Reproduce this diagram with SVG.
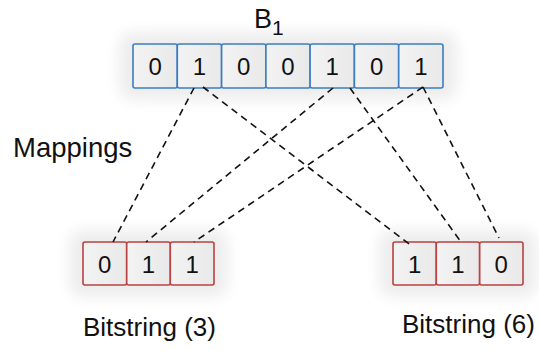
<svg xmlns="http://www.w3.org/2000/svg" width="539" height="351" viewBox="0 0 539 351">
  <defs>
    <filter id="glow" x="-30%" y="-60%" width="160%" height="220%">
      <feGaussianBlur stdDeviation="7"/>
    </filter>
    <linearGradient id="cellfill" x1="0" y1="0" x2="1" y2="0">
      <stop offset="0" stop-color="#f3f3f3"/>
      <stop offset="1" stop-color="#e9e9e9"/>
    </linearGradient>
  </defs>
  <style>
    .halo { fill: #ededed; filter: url(#glow); }
    .cb { fill: url(#cellfill); stroke: #3a7dc2; stroke-width: 1.6; }
    .cr { fill: url(#cellfill); stroke: #b84141; stroke-width: 1.6; }
    .d { font-family: "Liberation Sans", Arial, sans-serif; font-size: 24px; fill: #111; text-anchor: middle; }
    .lbl { font-family: "Liberation Sans", Arial, sans-serif; font-size: 26px; fill: #111; }
    .conn line { stroke: #111; stroke-width: 1.6; stroke-dasharray: 7 5; fill: none; }
  </style>
  <rect width="539" height="351" fill="#ffffff"/>

  <g id="B1">
    <rect class="halo" x="119" y="32" width="338" height="68" rx="14"/>
    <rect class="cb" x="133" y="44" width="44.3" height="44" rx="2"/>
    <rect class="cb" x="177.3" y="44" width="44.3" height="44" rx="2"/>
    <rect class="cb" x="221.6" y="44" width="44.3" height="44" rx="2"/>
    <rect class="cb" x="265.9" y="44" width="44.3" height="44" rx="2"/>
    <rect class="cb" x="310.1" y="44" width="44.3" height="44" rx="2"/>
    <rect class="cb" x="354.4" y="44" width="44.3" height="44" rx="2"/>
    <rect class="cb" x="398.7" y="44" width="44.3" height="44" rx="2"/>
    <text class="d" x="155.2" y="75">0</text>
    <text class="d" x="199.5" y="75">1</text>
    <text class="d" x="243.8" y="75">0</text>
    <text class="d" x="288" y="75">0</text>
    <text class="d" x="332.3" y="75">1</text>
    <text class="d" x="376.6" y="75">0</text>
    <text class="d" x="420.9" y="75">1</text>
    <text class="lbl" x="254" y="28" style="font-size:27px">B<tspan style="font-size:21px" dy="7">1</tspan></text>
  </g>

  <g id="bitstring3">
    <rect class="halo" x="69" y="230" width="159" height="67" rx="14"/>
    <rect class="cr" x="83" y="242" width="43.7" height="43" rx="2"/>
    <rect class="cr" x="126.7" y="242" width="43.7" height="43" rx="2"/>
    <rect class="cr" x="170.3" y="242" width="43.7" height="43" rx="2"/>
    <text class="d" x="104.8" y="273">0</text>
    <text class="d" x="148.5" y="273">1</text>
    <text class="d" x="192.2" y="273">1</text>
    <text class="lbl" x="83" y="336">Bitstring (3)</text>
  </g>

  <g id="bitstring6">
    <rect class="halo" x="379" y="230" width="158" height="67" rx="14"/>
    <rect class="cr" x="393" y="242" width="43.3" height="43" rx="2"/>
    <rect class="cr" x="436.3" y="242" width="43.3" height="43" rx="2"/>
    <rect class="cr" x="479.7" y="242" width="43.3" height="43" rx="2"/>
    <text class="d" x="414.7" y="273">1</text>
    <text class="d" x="458" y="273">1</text>
    <text class="d" x="501.3" y="273">0</text>
    <text class="lbl" x="402" y="333">Bitstring (6)</text>
  </g>

  <g id="mappings-label">
    <text class="lbl" x="13" y="157" style="font-size:27.5px">Mappings</text>
  </g>

  <g id="connectors" class="conn">
    <line x1="194" y1="88" x2="113" y2="242"/>
    <line x1="203" y1="87" x2="413" y2="247"/>
    <line x1="333" y1="88" x2="146" y2="242"/>
    <line x1="350" y1="88" x2="461" y2="242"/>
    <line x1="423" y1="87" x2="194" y2="242"/>
    <line x1="423" y1="87" x2="499" y2="238"/>
  </g>
</svg>
